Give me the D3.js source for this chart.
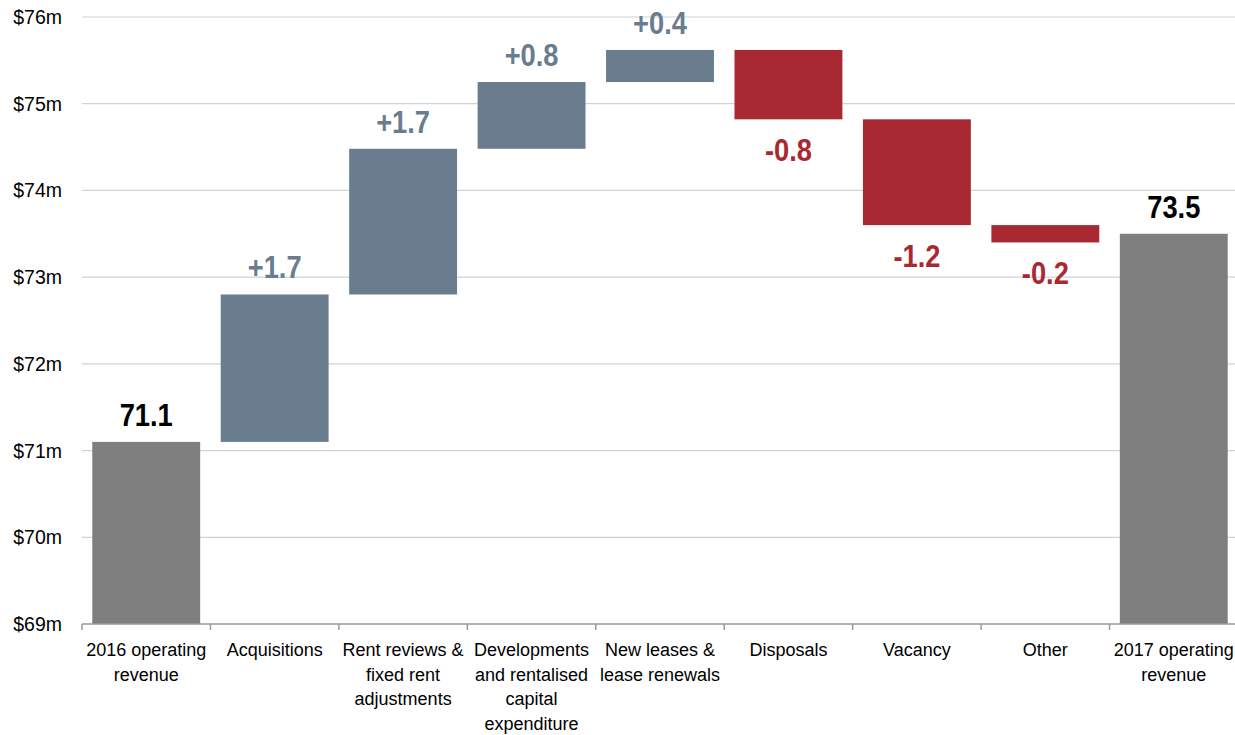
<!DOCTYPE html>
<html>
<head>
<meta charset="utf-8">
<script src="https://cdn.jsdelivr.net/npm/d3@7"></script>
<style>
  body { margin: 0; background: #fff; }
  svg { display: block; }
</style>
</head>
<body>
<svg id="chart" width="1235" height="735"></svg>
<script>
// categories, with the lines they are broken into under the axis
var categories = ["2016 operating revenue", "Acquisitions", "Rent reviews & fixed rent adjustments",
  "Developments and rentalised capital expenditure", "New leases & lease renewals",
  "Disposals", "Vacancy", "Other", "2017 operating revenue"];
var categoryLines = [["2016 operating", "revenue"], ["Acquisitions"], ["Rent reviews &", "fixed rent", "adjustments"],
  ["Developments", "and rentalised", "capital", "expenditure"], ["New leases &", "lease renewals"],
  ["Disposals"], ["Vacancy"], ["Other"], ["2017 operating", "revenue"]];

// bar spans in $m
var barStart = [69, 71.1, 72.8, 74.48, 75.25, 75.62, 74.82, 73.6, 69];
var barEnd   = [71.1, 72.8, 74.48, 75.25, 75.62, 74.82, 73.6, 73.4, 73.5];
var barKind  = ["total", "up", "up", "up", "up", "down", "down", "down", "total"];
var valueLabels = ["71.1", "+1.7", "+1.7", "+0.8", "+0.4", "-0.8", "-1.2", "-0.2", "73.5"];

var yTicks = [69, 70, 71, 72, 73, 74, 75, 76];

var barColor = { total: "#7f7f7f", up: "#6a7d8f", down: "#a92932" };
var textColor = { total: "#000000", up: "#6a7d8f", down: "#a92932" };

var svg = d3.select("#chart");

var x = d3.scaleBand()
  .domain(categories)
  .range([82, 1238])
  .paddingInner(0.16)
  .paddingOuter(0.08);

var y = d3.scaleLinear()
  .domain([69, 76])
  .range([624, 17]);

// gridlines
svg.append("g")
  .selectAll("line")
  .data(yTicks.filter(function(d) { return d > 69; }))
  .enter().append("line")
  .attr("x1", 82).attr("x2", 1235)
  .attr("y1", function(d) { return y(d); })
  .attr("y2", function(d) { return y(d); })
  .attr("stroke", "#ccd3da")
  .attr("stroke-width", 1.2);

// y labels
svg.append("g")
  .selectAll("text")
  .data(yTicks)
  .enter().append("text")
  .attr("x", 62)
  .attr("y", function(d) { return y(d) + 7; })
  .attr("text-anchor", "end")
  .style("font-family", "'Liberation Sans', Arial, sans-serif")
  .style("font-size", "19.5px")
  .attr("fill", "#000")
  .text(function(d) { return "$" + d + "m"; });

// bars
svg.append("g")
  .selectAll("rect")
  .data(categories)
  .enter().append("rect")
  .attr("x", function(d) { return x(d); })
  .attr("width", x.bandwidth())
  .attr("y", function(d, i) { return y(Math.max(barStart[i], barEnd[i])); })
  .attr("height", function(d, i) { return Math.abs(y(barStart[i]) - y(barEnd[i])); })
  .attr("fill", function(d, i) { return barColor[barKind[i]]; });

// value labels (squeezed horizontally, the original uses a narrow face)
svg.append("g")
  .selectAll("text")
  .data(categories)
  .enter().append("text")
  .attr("transform", function(d, i) {
    var ly;
    if (barKind[i] == "down") ly = y(Math.min(barStart[i], barEnd[i])) + 42;
    else ly = y(Math.max(barStart[i], barEnd[i])) - 16;
    return "translate(" + (x(d) + x.bandwidth() / 2) + "," + ly + ") scale(0.88,1)";
  })
  .attr("text-anchor", "middle")
  .style("font-family", "'Liberation Sans', Arial, sans-serif")
  .style("font-weight", "bold")
  .style("font-size", "31px")
  .attr("fill", function(d, i) { return textColor[barKind[i]]; })
  .text(function(d, i) { return valueLabels[i]; });

// x axis line + ticks at band edges
svg.append("line")
  .attr("x1", 82).attr("x2", 1235)
  .attr("y1", y(69)).attr("y2", y(69))
  .attr("stroke", "#9a9a9a")
  .attr("stroke-width", 1.5);

svg.append("g")
  .selectAll("line")
  .data(categories)
  .enter().append("line")
  .attr("x1", function(d) { return x(d) - x.step() * x.paddingOuter(); })
  .attr("x2", function(d) { return x(d) - x.step() * x.paddingOuter(); })
  .attr("y1", y(69)).attr("y2", y(69) + 6)
  .attr("stroke", "#9a9a9a")
  .attr("stroke-width", 1.5);

// x labels
var xl = svg.append("g")
  .selectAll("text")
  .data(categories)
  .enter().append("text")
  .attr("text-anchor", "middle")
  .style("font-family", "'Liberation Sans', Arial, sans-serif")
  .style("font-size", "18px")
  .attr("fill", "#000");

xl.each(function(d, i) {
  var t = d3.select(this);
  categoryLines[i].forEach(function(line, j) {
    t.append("tspan")
      .attr("x", x(d) + x.bandwidth() / 2)
      .attr("y", 656 + j * 24.5)
      .text(line);
  });
});
</script>
</body>
</html>
